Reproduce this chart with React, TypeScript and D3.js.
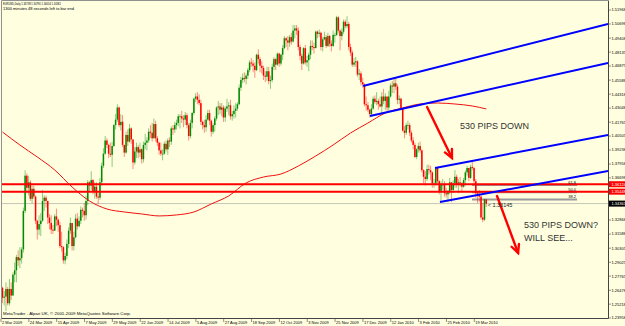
import * as d3 from 'd3';

// header / footer text of the terminal window
const symbolLine = 'EURUSD,Daily  1.34738 1.34790 1.34054 1.34361';
const timerLine = '1300 minutes 48 seconds left to bar end';
const copyright = 'MetaTrader - Alpari UK, \u00a9 2001-2009 MetaQuotes Software Corp.';

// daily bars, 2 Mar 2009 .. 29 Mar 2010, one row per week
// (forex daily bars open at the previous close)
const firstOpen = 1.267;
const closes = [
  1.2580, 1.2590, 1.2660, 1.2530, 1.2660,
  1.2600, 1.2790, 1.2830, 1.2950, 1.2920,
  1.2940, 1.3020, 1.3370, 1.3690, 1.3580,
  1.3630, 1.3480, 1.3570, 1.3500, 1.3280,
  1.3200, 1.3250, 1.3280, 1.3460, 1.3490,
  1.3460, 1.3310, 1.3260, 1.3200, 1.3190,
  1.3320, 1.3290, 1.3240, 1.3050, 1.3040,
  1.2920, 1.2960, 1.3070, 1.3190, 1.3260,
  1.3050, 1.3130, 1.3300, 1.3230, 1.3280,
  1.3380, 1.3370, 1.3330, 1.3460, 1.3630,
  1.3600, 1.3650, 1.3550, 1.3590, 1.3500,
  1.3490, 1.3630, 1.3780, 1.3890, 1.4010,
  1.3970, 1.3890, 1.3880, 1.3960, 1.4150,
  1.4200, 1.4310, 1.4150, 1.4180, 1.3970,
  1.3900, 1.4060, 1.4000, 1.4120, 1.4020,
  1.3810, 1.3910, 1.3950, 1.3900, 1.3930,
  1.3840, 1.3970, 1.3990, 1.4010, 1.4090,
  1.4080, 1.4030, 1.4160, 1.4030, 1.3990,
  1.3920, 1.3890, 1.3890, 1.3980, 1.3930,
  1.4010, 1.4000, 1.4120, 1.4110, 1.4150,
  1.4170, 1.4230, 1.4230, 1.4210, 1.4200,
  1.4240, 1.4150, 1.4050, 1.4170, 1.4260,
  1.4390, 1.4410, 1.4380, 1.4350, 1.4180,
  1.4150, 1.4130, 1.4200, 1.4260, 1.4190,
  1.4090, 1.4150, 1.4210, 1.4310, 1.4320,
  1.4290, 1.4310, 1.4220, 1.4300, 1.4320,
  1.4330, 1.4230, 1.4250, 1.4280, 1.4300,
  1.4340, 1.4490, 1.4560, 1.4580, 1.4570,
  1.4600, 1.4650, 1.4720, 1.4710, 1.4690,
  1.4650, 1.4790, 1.4750, 1.4690, 1.4670,
  1.4600, 1.4590, 1.4640, 1.4550, 1.4560,
  1.4680, 1.4750, 1.4700, 1.4800, 1.4710,
  1.4790, 1.4850, 1.4940, 1.4920, 1.4900,
  1.4950, 1.4910, 1.5010, 1.5030, 1.5010,
  1.4860, 1.4780, 1.4710, 1.4850, 1.4720,
  1.4740, 1.4790, 1.4870, 1.4860, 1.4850,
  1.5000, 1.4980, 1.4990, 1.4860, 1.4930,
  1.4950, 1.4870, 1.4960, 1.4890, 1.4870,
  1.4970, 1.4970, 1.5130, 1.5010, 1.4960,
  1.5000, 1.5090, 1.5050, 1.5070, 1.4860,
  1.4810, 1.4700, 1.4720, 1.4730, 1.4610,
  1.4620, 1.4540, 1.4520, 1.4340, 1.4330,
  1.4290, 1.4250, 1.4300, 1.4390,
  1.4360, 1.4370, 1.4340, 1.4320,
  1.4410, 1.4370, 1.4410, 1.4310, 1.4410,
  1.4510, 1.4500, 1.4530, 1.4500, 1.4380,
  1.4390, 1.4300, 1.4100, 1.4080, 1.4150,
  1.4150, 1.4080, 1.4010, 1.3970, 1.3860,
  1.3930, 1.3960, 1.3920, 1.3740, 1.3680,
  1.3660, 1.3750, 1.3740, 1.3720, 1.3620,
  1.3620, 1.3760, 1.3640, 1.3540, 1.3610,
  1.3610, 1.3530, 1.3520, 1.3540, 1.3630,
  1.3560, 1.3620, 1.3680, 1.3610, 1.3630,
  1.3620, 1.3590, 1.3650, 1.3720, 1.3760,
  1.3670, 1.3770, 1.3760, 1.3640, 1.3530,
  1.3520, 1.3500, 1.3310, 1.3290, 1.3474,
  1.3436,
];
const highs = [
  1.2680, 1.2640, 1.2720, 1.2680, 1.2750,
  1.2720, 1.2810, 1.2900, 1.2970, 1.3010,
  1.3040, 1.3040, 1.3400, 1.3740, 1.3710,
  1.3690, 1.3650, 1.3600, 1.3600, 1.3510,
  1.3290, 1.3330, 1.3350, 1.3560, 1.3510,
  1.3510, 1.3460, 1.3340, 1.3330, 1.3240,
  1.3340, 1.3390, 1.3300, 1.3270, 1.3180,
  1.3050, 1.2990, 1.3110, 1.3220, 1.3310,
  1.3240, 1.3180, 1.3340, 1.3350, 1.3320,
  1.3410, 1.3400, 1.3440, 1.3510, 1.3650,
  1.3640, 1.3730, 1.3660, 1.3630, 1.3630,
  1.3530, 1.3670, 1.3810, 1.3940, 1.4050,
  1.4030, 1.3980, 1.3990, 1.4000, 1.4160,
  1.4250, 1.4340, 1.4320, 1.4250, 1.4240,
  1.3960, 1.4090, 1.4110, 1.4160, 1.4130,
  1.4000, 1.3950, 1.3990, 1.3970, 1.3990,
  1.3940, 1.4000, 1.4070, 1.4040, 1.4120,
  1.4150, 1.4170, 1.4210, 1.4190, 1.4050,
  1.4000, 1.3990, 1.3930, 1.4000, 1.4010,
  1.4030, 1.4040, 1.4140, 1.4150, 1.4180,
  1.4200, 1.4250, 1.4250, 1.4280, 1.4240,
  1.4270, 1.4260, 1.4170, 1.4200, 1.4270,
  1.4400, 1.4440, 1.4450, 1.4430, 1.4380,
  1.4190, 1.4200, 1.4240, 1.4290, 1.4290,
  1.4200, 1.4170, 1.4230, 1.4320, 1.4370,
  1.4350, 1.4350, 1.4330, 1.4320, 1.4390,
  1.4360, 1.4380, 1.4280, 1.4330, 1.4350,
  1.4360, 1.4520, 1.4590, 1.4620, 1.4630,
  1.4620, 1.4670, 1.4740, 1.4760, 1.4740,
  1.4720, 1.4800, 1.4840, 1.4770, 1.4730,
  1.4690, 1.4640, 1.4680, 1.4680, 1.4600,
  1.4710, 1.4770, 1.4760, 1.4810, 1.4810,
  1.4800, 1.4880, 1.4960, 1.4950, 1.4960,
  1.4970, 1.4990, 1.5060, 1.5060, 1.5060,
  1.5040, 1.4880, 1.4800, 1.4860, 1.4880,
  1.4780, 1.4810, 1.4920, 1.4920, 1.4900,
  1.5010, 1.5010, 1.5020, 1.5000, 1.4950,
  1.5000, 1.4970, 1.4990, 1.4970, 1.4920,
  1.5010, 1.4990, 1.5144, 1.5140, 1.5020,
  1.5030, 1.5110, 1.5110, 1.5140, 1.5090,
  1.4890, 1.4830, 1.4760, 1.4770, 1.4740,
  1.4660, 1.4640, 1.4580, 1.4530, 1.4410,
  1.4360, 1.4300, 1.4340, 1.4410,
  1.4420, 1.4450, 1.4390, 1.4410,
  1.4450, 1.4480, 1.4440, 1.4410, 1.4460,
  1.4530, 1.4550, 1.4580, 1.4580, 1.4520,
  1.4420, 1.4400, 1.4300, 1.4140, 1.4170,
  1.4190, 1.4170, 1.4100, 1.4040, 1.3990,
  1.3940, 1.3990, 1.4000, 1.3930, 1.3750,
  1.3730, 1.3790, 1.3790, 1.3780, 1.3730,
  1.3660, 1.3770, 1.3770, 1.3650, 1.3640,
  1.3660, 1.3640, 1.3580, 1.3560, 1.3670,
  1.3630, 1.3650, 1.3740, 1.3700, 1.3660,
  1.3680, 1.3630, 1.3670, 1.3740, 1.3780,
  1.3760, 1.3790, 1.3815, 1.3770, 1.3660,
  1.3540, 1.3560, 1.3510, 1.3440, 1.3480,
  1.3479,
];
const lows = [
  1.2530, 1.2510, 1.2460, 1.2510, 1.2510,
  1.2560, 1.2600, 1.2720, 1.2720, 1.2870,
  1.2850, 1.2890, 1.2990, 1.3350, 1.3530,
  1.3510, 1.3460, 1.3440, 1.3480, 1.3250,
  1.3110, 1.3150, 1.3140, 1.3270, 1.3370,
  1.3400, 1.3250, 1.3200, 1.3160, 1.3160,
  1.3190, 1.3230, 1.3180, 1.3030, 1.3000,
  1.2890, 1.2885, 1.2930, 1.3030, 1.3160,
  1.3010, 1.3010, 1.3120, 1.3200, 1.3220,
  1.3250, 1.3310, 1.3280, 1.3290, 1.3420,
  1.3540, 1.3560, 1.3520, 1.3480, 1.3480,
  1.3430, 1.3470, 1.3600, 1.3760, 1.3880,
  1.3940, 1.3850, 1.3860, 1.3770, 1.3950,
  1.4110, 1.4180, 1.4130, 1.4100, 1.3950,
  1.3860, 1.3890, 1.3960, 1.3990, 1.3980,
  1.3750, 1.3790, 1.3850, 1.3850, 1.3860,
  1.3800, 1.3810, 1.3930, 1.3920, 1.3990,
  1.4030, 1.4000, 1.4030, 1.4000, 1.3960,
  1.3880, 1.3870, 1.3830, 1.3880, 1.3910,
  1.3880, 1.3950, 1.3970, 1.4060, 1.4080,
  1.4110, 1.4140, 1.4120, 1.4170, 1.4130,
  1.4150, 1.4120, 1.4010, 1.4030, 1.4120,
  1.4240, 1.4360, 1.4340, 1.4330, 1.4150,
  1.4110, 1.4080, 1.4090, 1.4190, 1.4150,
  1.4045, 1.4070, 1.4090, 1.4190, 1.4240,
  1.4250, 1.4230, 1.4180, 1.4180, 1.4270,
  1.4240, 1.4200, 1.4190, 1.4210, 1.4220,
  1.4280, 1.4330, 1.4460, 1.4530, 1.4540,
  1.4520, 1.4570, 1.4630, 1.4680, 1.4630,
  1.4580, 1.4640, 1.4710, 1.4630, 1.4620,
  1.4560, 1.4540, 1.4550, 1.4520, 1.4480,
  1.4540, 1.4650, 1.4650, 1.4690, 1.4680,
  1.4690, 1.4740, 1.4840, 1.4860, 1.4830,
  1.4860, 1.4880, 1.4900, 1.4940, 1.4970,
  1.4830, 1.4740, 1.4650, 1.4700, 1.4700,
  1.4680, 1.4640, 1.4750, 1.4830, 1.4800,
  1.4860, 1.4940, 1.4950, 1.4830, 1.4820,
  1.4920, 1.4850, 1.4860, 1.4860, 1.4820,
  1.4860, 1.4900, 1.4960, 1.4990, 1.4830,
  1.4920, 1.4980, 1.5030, 1.5030, 1.4830,
  1.4780, 1.4680, 1.4680, 1.4680, 1.4590,
  1.4560, 1.4510, 1.4490, 1.4320, 1.4280,
  1.4270, 1.4220, 1.4230, 1.4290,
  1.4340, 1.4330, 1.4290, 1.4310,
  1.4260, 1.4340, 1.4290, 1.4260, 1.4280,
  1.4400, 1.4440, 1.4440, 1.4470, 1.4340,
  1.4340, 1.4290, 1.4090, 1.4030, 1.4060,
  1.4110, 1.4050, 1.3990, 1.3930, 1.3850,
  1.3840, 1.3900, 1.3900, 1.3720, 1.3620,
  1.3600, 1.3640, 1.3700, 1.3650, 1.3580,
  1.3580, 1.3600, 1.3620, 1.3520, 1.3444,
  1.3560, 1.3500, 1.3490, 1.3450, 1.3520,
  1.3450, 1.3530, 1.3580, 1.3580, 1.3530,
  1.3590, 1.3540, 1.3580, 1.3600, 1.3690,
  1.3640, 1.3660, 1.3740, 1.3610, 1.3490,
  1.3440, 1.3450, 1.3290, 1.3267, 1.3280,
  1.3405,
];

// one date label every 16 bars
const dateStep = 16;
const dateLabels = [
  '2 Mar 2009', '24 Mar 2009', '15 Apr 2009', '7 May 2009', '29 May 2009',
  '22 Jun 2009', '14 Jul 2009', '5 Aug 2009', '27 Aug 2009', '18 Sep 2009',
  '12 Oct 2009', '3 Nov 2009', '25 Nov 2009', '17 Dec 2009', '12 Jan 2010',
  '3 Feb 2010', '25 Feb 2010', '19 Mar 2010',
];

const priceTicks = [
  1.51968, 1.50698, 1.49408, 1.48135, 1.46875, 1.45588, 1.44318, 1.43048,
  1.41765, 1.40505, 1.39238, 1.37958, 1.36698, 1.35428, 1.34148, 1.32868,
  1.31588, 1.30305, 1.29025, 1.27765, 1.26478, 1.25218, 1.23958,
];

// moving average
const maBars = [0, 10, 20, 30, 40, 50, 60, 70, 80, 90, 100, 110, 120, 130, 140,
  150, 160, 170, 180, 190, 200, 210, 220, 230, 240, 250, 260, 270, 278];
const maValues = [1.4087, 1.3969, 1.3860, 1.3742, 1.3587, 1.3460, 1.3387, 1.3360,
  1.3342, 1.3324, 1.3333, 1.3360, 1.3433, 1.3506, 1.3624, 1.3678, 1.3705, 1.3778,
  1.3869, 1.3969, 1.4078, 1.4169, 1.4260, 1.4306, 1.4342, 1.4351, 1.4342, 1.4324,
  1.4297];

const levels = [1.36124, 1.35448];
const bid = 1.34361;

const fibRange = [1.326, 1.382];
const fibLevels = [61.8, 50.0, 38.2];
const fibBars = [269.8, 330.2];

// [bar, price, bar, price]
const trendLines = [
  [207.2, 1.4506, 348, 1.5069],
  [211.2, 1.4233, 348, 1.4715],
  [248.6, 1.3760, 348, 1.4060],
  [251.4, 1.3451, 348, 1.3733],
];
const arrows = [
  [244, 1.4315, 258.3, 1.3851],
  [284.2, 1.3505, 296.3, 1.2987],
];
const notes = [
  { bar: 262.9, price: 1.4133, text: '530 PIPS DOWN' },
  { bar: 299.7, price: 1.3233, text: '530 PIPS DOWN?' },
  { bar: 299.7, price: 1.3119, text: 'WILL SEE...' },
];
const lastNote = { bar: 278, price: 1.3414, text: '< 1.33145' };

export default function App() {
  const width = 625;
  const height = 326;
  const left = 2, top = 1, right = 608, bottom = 318;
  const bg = '#ffffe0';
  const font = '"Liberation Sans", Arial, sans-serif';

  const x = d3.scaleLinear().domain([0, 272]).range([2.5, 475.8]);
  const y = d3.scaleLinear().domain([1.23958, 1.51968]).range([318, 10]);

  const bars = closes.map((c, i) => {
    const o = i === 0 ? firstOpen : closes[i - 1];
    return { i, o, c, h: Math.max(highs[i], o, c), l: Math.min(lows[i], o, c) };
  });

  const maPath = d3.line<number>()
    .x((_, k) => x(maBars[k]))
    .y(d => y(d))
    .curve(d3.curveMonotoneX)(maValues) || '';

  const fibPrice = (lvl: number) => fibRange[0] + (fibRange[1] - fibRange[0]) * lvl / 100;

  // axis labels hidden under the coloured price boxes
  const boxed = [...levels, bid];
  const visibleTicks = priceTicks.filter(v => boxed.every(b => Math.abs(y(v) - y(b)) > 5.5));

  return (
    <>
      <style>{'body{margin:0}'}</style>
      <svg width={width} height={height} style={{ display: 'block' }} fontFamily={font}>
        <defs>
          <clipPath id="plot">
            <rect x={left} y={top} width={right - left} height={bottom - top} />
          </clipPath>
        </defs>
        <rect width={width} height={height} fill={bg} />

        <g clipPath="url(#plot)">
          <line x1={left} x2={right} y1={y(bid)} y2={y(bid)} stroke="#c4c4b8" strokeWidth={1} />

          {fibLevels.map(l => (
            <line key={l} x1={x(fibBars[0])} x2={x(fibBars[1])} y1={y(fibPrice(l))} y2={y(fibPrice(l))}
              stroke="#9a9a9a" strokeWidth={2} />
          ))}

          {bars.map(b => {
            const up = b.c >= b.o;
            const cx = x(b.i);
            const yt = y(Math.max(b.o, b.c));
            const yb = y(Math.min(b.o, b.c));
            const col = up ? '#008a00' : '#ff0000';
            return (
              <g key={b.i}>
                <line x1={cx} x2={cx} y1={y(b.h)} y2={y(b.l)} stroke={col} strokeOpacity={0.45} strokeWidth={1} />
                <rect x={cx - 0.75} width={1.5} y={yt} height={Math.max(0.8, yb - yt)} fill={col} />
              </g>
            );
          })}

          <path d={maPath} fill="none" stroke="#f01010" strokeWidth={1} />

          {levels.map(l => (
            <line key={l} x1={left} x2={right} y1={y(l)} y2={y(l)} stroke="#ff0000" strokeWidth={2} />
          ))}

          {trendLines.map(([i1, p1, i2, p2], k) => (
            <line key={k} x1={x(i1)} y1={y(p1)} x2={x(i2)} y2={y(p2)} stroke="#0000ff" strokeWidth={2} />
          ))}

          {arrows.map(([i1, p1, i2, p2], k) => {
            const x1 = x(i1), y1 = y(p1), x2 = x(i2), y2 = y(p2);
            const a = Math.atan2(y2 - y1, x2 - x1);
            const len = 9, spread = 0.45;
            const h1 = [x2 - len * Math.cos(a - spread), y2 - len * Math.sin(a - spread)];
            const h2 = [x2 - len * Math.cos(a + spread), y2 - len * Math.sin(a + spread)];
            return (
              <g key={k} stroke="#ff0000" strokeWidth={2.4} fill="none" strokeLinecap="round">
                <line x1={x1} y1={y1} x2={x2} y2={y2} />
                <polyline points={`${h1[0]},${h1[1]} ${x2},${y2} ${h2[0]},${h2[1]}`} />
              </g>
            );
          })}

          {notes.map((n, k) => (
            <text key={k} x={x(n.bar)} y={y(n.price)} dominantBaseline="middle" fontSize={9} fill="#333">
              {n.text}
            </text>
          ))}

          {fibLevels.map(l => (
            <text key={l} x={x(fibBars[1]) - 1} y={y(fibPrice(l)) - 1.3} textAnchor="end" fontSize={4} fill="#000">
              {l.toFixed(1)}
            </text>
          ))}

          <text x={x(lastNote.bar) + 1.5} y={y(lastNote.price)} dominantBaseline="middle" fontSize={5.5} fill="#222">
            {lastNote.text}
          </text>
        </g>

        {/* frame */}
        <line x1={1.5} x2={1.5} y1={0.5} y2={bottom} stroke="#909090" />
        <line x1={1.5} x2={right} y1={0.5} y2={0.5} stroke="#909090" />
        <line x1={right + 0.5} x2={right + 0.5} y1={0.5} y2={bottom + 0.5} stroke="#444" />
        <line x1={1.5} x2={right + 0.5} y1={bottom + 0.5} y2={bottom + 0.5} stroke="#444" />

        <text x={3} y={5.3} fontSize={3.8} fill="#000" textLength={58} lengthAdjust="spacingAndGlyphs">{symbolLine}</text>
        <text x={3} y={9.6} fontSize={3.8} fill="#000" textLength={71} lengthAdjust="spacingAndGlyphs">{timerLine}</text>
        <text x={3} y={315.3} fontSize={4} fill="#000" textLength={128} lengthAdjust="spacingAndGlyphs">{copyright}</text>

        {/* time axis */}
        {dateLabels.map((d, k) => {
          const px = x(k * dateStep);
          return (
            <g key={d}>
              <line x1={px - 1.5} x2={px - 1.5} y1={bottom + 0.5} y2={bottom + 4} stroke="#444" strokeWidth={0.6} />
              <text x={px - 0.5} y={324.2} fontSize={4} fill="#000">{d}</text>
            </g>
          );
        })}

        {/* price axis */}
        {visibleTicks.map(v => (
          <g key={v}>
            <line x1={right + 0.5} x2={right + 3} y1={y(v)} y2={y(v)} stroke="#444" strokeWidth={0.6} />
            <text x={right + 3.5} y={y(v) + 1.4} fontSize={4} fill="#000">{v.toFixed(5)}</text>
          </g>
        ))}
        {levels.map(l => (
          <g key={l}>
            <rect x={right + 1} y={y(l) - 3} width={width - right} height={6} fill="#ff0000" />
            <text x={right + 3.5} y={y(l) + 1.4} fontSize={4} fill="#fff">{l.toFixed(5)}</text>
          </g>
        ))}
        <rect x={right + 1} y={y(bid) - 3} width={width - right} height={6} fill="#000" />
        <text x={right + 3.5} y={y(bid) + 1.4} fontSize={4} fill="#fff">{bid.toFixed(5)}</text>
      </svg>
    </>
  );
}
